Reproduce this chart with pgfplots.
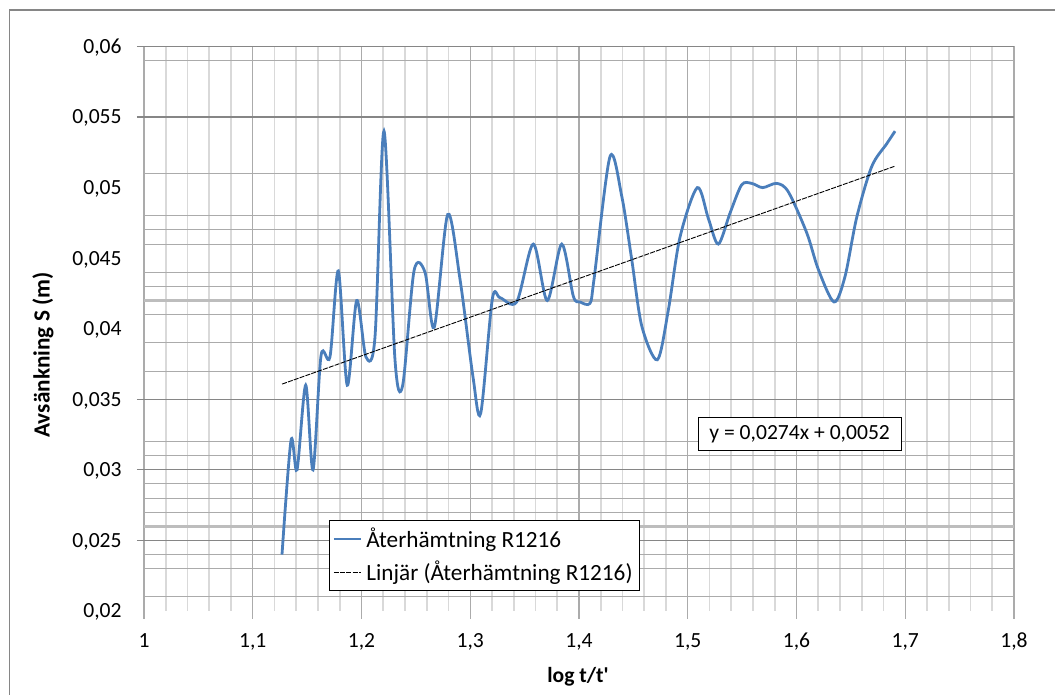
\documentclass[border=0pt]{standalone}
\usepackage{fontspec}
\setmainfont{Carlito}
\usepackage{pgfplots}
\pgfplotsset{compat=1.18}
\definecolor{serieblue}{HTML}{4A7EBB}
\definecolor{gdark}{HTML}{868686}
\definecolor{gmid}{HTML}{ABABAB}
\definecolor{glight}{HTML}{D9D9D9}
\definecolor{gthick}{HTML}{BDBDBD}
\newcommand{\fs}{\fontsize{10.8pt}{13pt}\selectfont}
\newcommand{\fl}{\fontsize{11.6pt}{14pt}\selectfont}
\begin{document}
\begin{tikzpicture}
\useasboundingbox (-72pt,-42pt) rectangle (455.5pt,305.5pt);
\begin{axis}[
  at={(0pt,0pt)}, anchor=south west,
  scale only axis, width=435pt, height=282.25pt,
  xmin=1, xmax=1.8, ymin=0.02, ymax=0.06,
  axis line style={draw=none},
  major tick length=0pt, minor tick length=0pt,
  xtick={1,1.1,1.2,1.3,1.4,1.5,1.6,1.7,1.8},
  ytick={0.02,0.025,0.03,0.035,0.04,0.045,0.05,0.055,0.06},
  scaled y ticks=false, scaled x ticks=false,
  minor x tick num=4,
  xmajorgrids, xminorgrids, ymajorgrids=false,
  major x grid style={gmid, line width=0.7pt},
  minor x grid style={glight, line width=0.8pt},
  /pgf/number format/assume math mode=true,
  /pgf/number format/use comma,
  /pgf/number format/fixed,
  /pgf/number format/precision=3,
  ticklabel style={font=\fs, text=black},
  xticklabel style={anchor=base, inner sep=0pt, yshift=-18.5pt},
  yticklabel style={anchor=base east, inner sep=0pt, xshift=-11pt, yshift=-3.45pt},
  legend style={at={(0.2126,0.1612)}, anchor=north west, draw=black, line width=0.6pt,
    fill=white, font=\fl, cells={anchor=west},
    inner xsep=1.5pt, inner ysep=1.5pt, row sep=1.5pt},
  legend image code/.code={\draw[#1] (0pt,0pt) -- (13.5pt,0pt);},
  clip=false,
]
% light horizontal grid lines
\pgfplotsinvokeforeach{0.059,0.051,0.048,0.047,0.046,0.044,0.043,0.041,0.039,0.037,0.032,0.031,0.029,0.028,0.027,0.024,0.023,0.021}{
  \draw[gmid, line width=0.5pt] (axis cs:1,#1) -- (axis cs:1.8,#1);
}
% thick light lines
\pgfplotsinvokeforeach{0.042,0.026}{
  \draw[gthick, line width=1.4pt] (axis cs:1,#1) -- (axis cs:1.8,#1);
}
% dark major lines with ticks
\pgfplotsinvokeforeach{0.06,0.055,0.035,0.03,0.025}{
  \draw[gdark, line width=0.6pt] (axis cs:0.99356,#1) -- (axis cs:1.8,#1);
}
% x ticks
\pgfplotsinvokeforeach{1,1.1,1.2,1.3,1.4,1.5,1.6,1.7,1.8}{
  \draw[gmid, line width=0.7pt] (axis cs:#1,0.02) -- (axis cs:#1,0.01943);
}

\addplot[serieblue, line width=1.4pt, smooth, tension=0.5] coordinates {
(1.1269,0.0240)
(1.1352,0.0321)
(1.1407,0.0300)
(1.1487,0.0360)
(1.1554,0.0300)
(1.1628,0.0381)
(1.1710,0.0380)
(1.1787,0.0441)
(1.1869,0.0360)
(1.1956,0.0420)
(1.2041,0.0380)
(1.2124,0.0394)
(1.2207,0.0540)
(1.2308,0.0378)
(1.2379,0.0360)
(1.2483,0.0441)
(1.2584,0.0440)
(1.2669,0.0401)
(1.2793,0.0481)
(1.2906,0.0435)
(1.3025,0.0366)
(1.3096,0.0340)
(1.3203,0.0421)
(1.3274,0.0422)
(1.3427,0.0419)
(1.3580,0.0460)
(1.3708,0.0420)
(1.3841,0.0460)
(1.3948,0.0423)
(1.4009,0.0419)
(1.4101,0.0418)
(1.4138,0.0435)
(1.4285,0.0522)
(1.4393,0.0494)
(1.4485,0.0449)
(1.4577,0.0402)
(1.4720,0.0378)
(1.4821,0.0413)
(1.4929,0.0465)
(1.5088,0.0500)
(1.5190,0.0478)
(1.5281,0.0460)
(1.5389,0.0482)
(1.5496,0.0502)
(1.5588,0.0503)
(1.5689,0.0500)
(1.5818,0.0503)
(1.5925,0.0497)
(1.6094,0.0468)
(1.6201,0.0442)
(1.6345,0.0419)
(1.6446,0.0437)
(1.6554,0.0479)
(1.6692,0.0515)
(1.6829,0.0531)
(1.6906,0.0540)
};
\addlegendentry{Återhämtning R1216}

\addplot[black, line width=0.45pt, dash pattern=on 2.5pt off 0.6pt] coordinates {
(1.127,0.0360798)
(1.690,0.0515060)
};
\addlegendentry{Linjär (Återhämtning R1216)}

\node[draw=black, line width=0.6pt, fill=white, minimum width=101.5pt, minimum height=16.5pt,
  inner sep=0pt, font=\fs] at (axis cs:1.6029,0.03254) {y = 0,0274x + 0,0052};
\end{axis}
\node[font=\fs\bfseries] at (217pt,-33pt) {log t/t\textquotesingle};
\node[font=\fl\bfseries, rotate=90] at (-50.5pt,128pt) {Avsänkning S (m)};
\draw[gdark, line width=0.6pt] (-67.25pt,-42pt) -- (-67.25pt,300.5pt) -- (455.5pt,300.5pt);
\end{tikzpicture}
\end{document}
